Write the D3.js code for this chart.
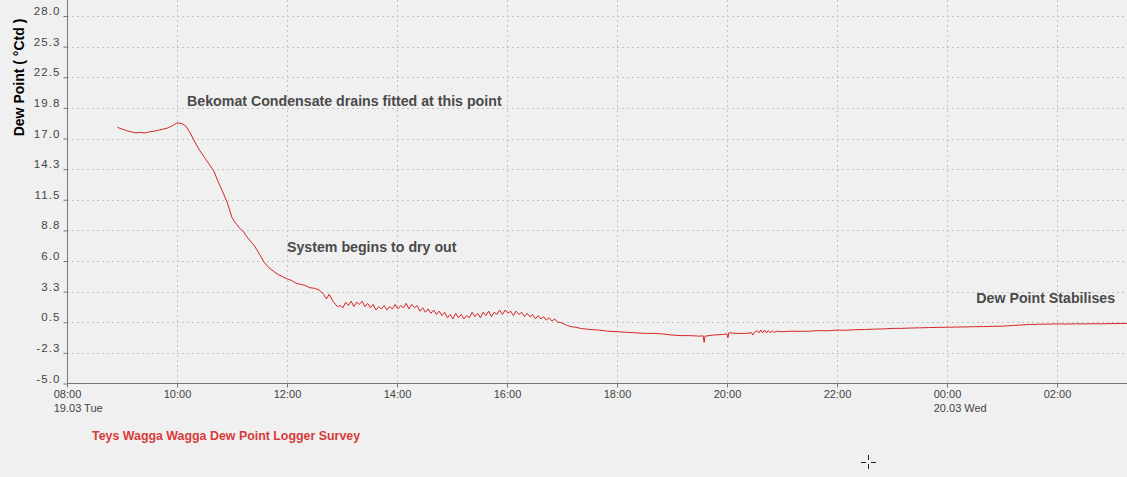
<!DOCTYPE html>
<html>
<head>
<meta charset="utf-8">
<script src="https://cdn.jsdelivr.net/npm/d3@7"></script>
<style>
  html, body { margin: 0; padding: 0; background: #f0f0f0; }
  svg { display: block; font-family: "Liberation Sans", Arial, sans-serif; }
</style>
</head>
<body>
<svg id="chart" width="1127" height="477"></svg>
<script>
// ---------- DATA ----------
const yTickValues = [-5.0, -2.25, 0.5, 3.25, 6.0, 8.75, 11.5, 14.25, 17.0, 19.75, 22.5, 25.25, 28.0];
const xTickTimes = ["2019-03-19 08:00", "2019-03-19 10:00", "2019-03-19 12:00", "2019-03-19 14:00",
  "2019-03-19 16:00", "2019-03-19 18:00", "2019-03-19 20:00", "2019-03-19 22:00",
  "2019-03-20 00:00", "2019-03-20 02:00"];
const dateLabels = { "2019-03-19 08:00": "19.03 Tue", "2019-03-20 00:00": "20.03 Wed" };
const xDomain = ["2019-03-19 08:00:00", "2019-03-20 03:16:22"];

// reading times (HH:MM, logging starts 19.03, rolls over midnight)
const readingTimes = [
  "08:55","09:00","09:05","09:10","09:15","09:20","09:25","09:30","09:35","09:40","09:45","09:50","09:55",
  "10:00","10:05","10:10","10:15","10:20","10:25","10:30","10:35","10:40","10:45","10:50","10:55",
  "11:00","11:03","11:05","11:10","11:13","11:15","11:20","11:25","11:30","11:35","11:40","11:45","11:50","11:55",
  "12:00","12:05","12:10","12:15","12:20","12:25","12:30","12:35","12:40","12:43","12:46","12:50","12:55",
  "12:58","13:01","13:04","13:07","13:10","13:13","13:16","13:19","13:22","13:25","13:28","13:31","13:34","13:37",
  "13:40","13:43","13:46","13:49","13:52","13:55","13:58","14:01","14:04","14:07","14:10","14:13","14:16","14:19",
  "14:22","14:25","14:28","14:31","14:34","14:37","14:40","14:43","14:46","14:49","14:52","14:55","14:58","15:01",
  "15:04","15:07","15:10","15:13","15:16","15:19","15:22","15:25","15:28","15:31","15:34","15:37","15:40","15:43",
  "15:46","15:49","15:52","15:55","15:58","16:01","16:04","16:07","16:10","16:13","16:16","16:19","16:22","16:25",
  "16:28","16:31","16:34","16:37","16:40","16:43","16:46","16:49","16:52","16:55","16:58",
  "17:02","17:06","17:10","17:15","17:20","17:30","17:40","17:50","18:00","18:10","18:20","18:30","18:40","18:50",
  "19:00","19:10","19:20","19:30","19:34","19:35","19:36","19:45","19:55","20:00","20:01","20:02","20:10","20:20",
  "20:27","20:28","20:30","20:33","20:35","20:37","20:39","20:41","20:43","20:45","20:47","20:49","20:51","20:55",
  "21:00","21:10","21:20","21:30","21:40","21:50","22:00","22:10","22:20","22:30","22:40","22:50","23:00","23:10",
  "23:20","23:30","23:40","23:50","00:00","00:10","00:20","00:30","00:40","00:50","01:00","01:10","01:20","01:30",
  "01:40","01:50","02:00","02:10","02:20","02:30","02:40","02:50","03:00","03:10","03:17"
];
const dewPoint = [
  18.0,17.85,17.7,17.6,17.5,17.55,17.5,17.6,17.65,17.75,17.85,17.95,18.15,
  18.4,18.35,18.1,17.4,16.6,15.9,15.3,14.7,14.1,13.1,12.2,11.2,
  9.9,9.5,9.3,8.8,8.6,8.3,7.8,7.3,6.6,5.9,5.4,5.1,4.8,4.6,
  4.4,4.25,4.0,3.9,3.8,3.6,3.55,3.4,3.0,2.6,3.0,2.4,1.9,
  2.0,1.8,2.3,2.0,2.4,1.9,2.3,2.1,2.4,1.9,2.2,1.8,2.1,1.6,
  1.9,1.7,2.0,1.6,1.9,1.7,2.1,1.7,2.0,1.8,2.2,1.7,2.1,1.8,
  2.0,1.5,1.8,1.4,1.7,1.3,1.6,1.2,1.5,1.1,1.4,0.9,1.2,0.8,
  1.3,0.9,1.2,0.8,1.1,0.9,1.4,1.0,1.3,0.9,1.4,1.1,1.5,1.0,
  1.4,1.2,1.6,1.2,1.6,1.3,1.5,1.1,1.5,1.2,1.4,1.0,1.3,1.0,
  1.2,0.8,1.1,0.8,1.0,0.7,0.9,0.6,0.8,0.5,0.5,
  0.35,0.2,0.1,0.05,-0.05,-0.15,-0.2,-0.3,-0.35,-0.4,-0.45,-0.5,-0.5,-0.55,
  -0.65,-0.7,-0.7,-0.75,-0.72,-1.3,-0.75,-0.65,-0.6,-0.55,-0.9,-0.45,-0.5,-0.5,
  -0.45,-0.65,-0.4,-0.25,-0.45,-0.2,-0.45,-0.2,-0.45,-0.25,-0.45,-0.25,-0.4,-0.3,
  -0.35,-0.3,-0.32,-0.3,-0.25,-0.27,-0.2,-0.22,-0.17,-0.15,-0.12,-0.1,-0.05,-0.05,
  -0.02,0.0,0.02,0.04,0.05,0.07,0.08,0.1,0.11,0.13,0.15,0.2,0.25,0.3,
  0.32,0.33,0.35,0.34,0.36,0.35,0.37,0.36,0.38,0.39,0.4
];

const annotations = [
  { text: "Bekomat Condensate drains fitted at this point", time: "2019-03-19 10:11", value: 19.95 },
  { text: "System begins to dry out", time: "2019-03-19 12:00", value: 6.8 },
  { text: "Dew Point Stabilises", time: "2019-03-20 00:32", value: 2.25 }
];
const yAxisTitle = "Dew Point ( \u00B0Ctd )";
const footerText = "Teys Wagga Wagga Dew Point Logger Survey";

// ---------- BUILD ----------
const parse = d3.timeParse("%Y-%m-%d %H:%M");
const parseS = d3.timeParse("%Y-%m-%d %H:%M:%S");
let day = 19, prevMin = -1;
const series = readingTimes.map((t, i) => {
  const [h, m] = t.split(":").map(Number);
  const mins = h * 60 + m;
  if (mins < prevMin) day += 1;
  prevMin = mins;
  return { date: parse(`2019-03-${day} ${t}`), value: dewPoint[i] };
});

const svg = d3.select("#chart");
const x = d3.scaleTime().domain(xDomain.map(parseS)).range([67, 1127]);
const y = d3.scaleLinear().domain([-5, 28]).range([383.5, 16]);

const fmtY = v => v.toFixed(1);
const gridColor = "#c4c4c4";
const tickFont = "Liberation Sans, Arial, sans-serif";

// grid
svg.append("g").selectAll("line.h").data(yTickValues.filter(v => v > -5)).join("line")
  .attr("x1", 67).attr("x2", 1127)
  .attr("y1", d => Math.round(y(d)) + 0.5).attr("y2", d => Math.round(y(d)) + 0.5)
  .attr("stroke", gridColor).attr("stroke-dasharray", "2,3");
svg.append("g").selectAll("line.v").data(xTickTimes.slice(1).map(parse)).join("line")
  .attr("x1", d => Math.round(x(d)) + 0.5).attr("x2", d => Math.round(x(d)) + 0.5)
  .attr("y1", 0).attr("y2", 383.5)
  .attr("stroke", gridColor).attr("stroke-dasharray", "2,3");

// y axis
const yAxis = svg.append("g").attr("transform", "translate(67.5,0)")
  .call(d3.axisLeft(y).tickValues(yTickValues).tickFormat(fmtY).tickSize(4).tickPadding(3));
yAxis.select(".domain").remove();
yAxis.append("line").attr("x1", 0).attr("x2", 0).attr("y1", 0).attr("y2", 384).attr("stroke", "#777");
yAxis.selectAll(".tick line").attr("stroke", "#777");
yAxis.selectAll(".tick text").attr("dy", -1.5).attr("fill", "#444")
  .style("font-size", "11.5px").style("letter-spacing", "1.1px").style("font-family", tickFont);

// x axis
const xAxis = svg.append("g").attr("transform", "translate(0,383.5)")
  .call(d3.axisBottom(x).tickValues(xTickTimes.map(parse)).tickFormat(d3.timeFormat("%H:%M")).tickSize(4).tickPadding(3));
xAxis.select(".domain").remove();
xAxis.append("line").attr("x1", 67).attr("x2", 1127).attr("y1", 0).attr("y2", 0).attr("stroke", "#777");
xAxis.selectAll(".tick line").attr("stroke", "#777");
xAxis.selectAll(".tick text").attr("fill", "#444")
  .style("font-size", "11px").style("font-family", tickFont);
xAxis.selectAll(".tick").each(function(d) {
  const key = d3.timeFormat("%Y-%m-%d %H:%M")(d);
  if (dateLabels[key]) {
    const t = d3.select(this).select("text");
    const w = t.node().getComputedTextLength();
    d3.select(this).append("text").attr("x", -w / 2).attr("y", 28)
      .attr("text-anchor", "start").attr("fill", "#444")
      .style("font-size", "11px").style("font-family", tickFont)
      .text(dateLabels[key]);
  }
});

// line
svg.append("path").datum(series)
  .attr("fill", "none").attr("stroke", "#d42626").attr("stroke-width", 1)
  .attr("d", d3.line().x(d => x(d.date)).y(d => y(d.value)));

// annotations
svg.append("g").selectAll("text").data(annotations).join("text")
  .attr("x", d => x(parse(d.time))).attr("y", d => y(d.value))
  .attr("fill", "#4a4a4a").style("font-weight", "bold").style("font-size", "14.2px")
  .text(d => d.text);

// y title
svg.append("text").attr("transform", "translate(24,77.5) rotate(-90)")
  .attr("text-anchor", "middle").style("font-weight", "bold").style("font-size", "14px")
  .attr("fill", "#000").text(yAxisTitle);

// footer
svg.append("text").attr("x", 92).attr("y", 440).attr("fill", "#d83a3a")
  .style("font-weight", "bold").style("font-size", "12.4px").text(footerText);

// cursor mark (as in screenshot)
const cur = svg.append("g").attr("stroke", "#222").attr("stroke-width", 1);
cur.append("line").attr("x1", 868.5).attr("x2", 868.5).attr("y1", 455).attr("y2", 460);
cur.append("line").attr("x1", 868.5).attr("x2", 868.5).attr("y1", 464).attr("y2", 469);
cur.append("line").attr("x1", 861).attr("x2", 866).attr("y1", 462.5).attr("y2", 462.5);
cur.append("line").attr("x1", 871).attr("x2", 876).attr("y1", 462.5).attr("y2", 462.5);
</script>
</body>
</html>
